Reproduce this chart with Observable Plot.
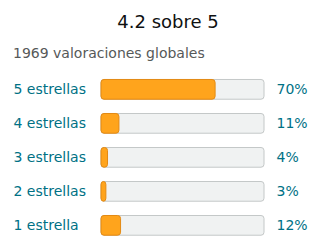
<!DOCTYPE html>
<html><head><meta charset="utf-8">
<script src="https://cdn.jsdelivr.net/npm/d3@7"></script>
<script src="https://cdn.jsdelivr.net/npm/@observablehq/plot@0.6"></script>
<style>
body{margin:0;background:#fff;font-family:"DejaVu Sans",sans-serif;}
#title{height:43px;line-height:43px;text-align:center;padding-left:16px;font-size:18px;color:#0F1111;}
#sub{height:21px;line-height:21px;padding-left:13px;font-size:14px;color:#565959;}
#chart svg{display:block;}
</style></head>
<body>
<div id="title">4.2 sobre 5</div>
<div id="sub">1969 valoraciones globales</div>
<div id="chart"></div>
<script>
const labels = ["5 estrellas","4 estrellas","3 estrellas","2 estrellas","1 estrella"];
const percents = [70, 11, 4, 3, 12];
const data = labels.map((l,i)=>({label:l, pct:percents[i]}));
const chart = Plot.plot({
  width:320, height:188,
  marginLeft:101, marginRight:56, marginTop:1.2, marginBottom:2.5,
  style:{fontFamily:"DejaVu Sans, sans-serif", background:"#fff"},
  x:{domain:[0,100], axis:null},
  y:{domain:labels, axis:null, padding:0.42, round:false},
  marks:[
    Plot.barX(data,{y:"label", x1:0, x2:100, fill:"#F0F2F2", stroke:"#C4C8C8", strokeWidth:1, rx:3}),
    Plot.barX(data,{y:"label", x1:0, x2:"pct", fill:"#FFA41C", stroke:"#E38A14", strokeWidth:1, rx:3}),
    Plot.text(data,{y:"label", x:0, text:"label", textAnchor:"start", dx:-88, fontSize:14, fill:"#007185"}),
    Plot.text(data,{y:"label", x:100, text:d=>d.pct+"%", textAnchor:"start", dx:12, fontSize:14, fill:"#007185"})
  ]
});
document.getElementById("chart").appendChild(chart);
</script>
</body></html>
